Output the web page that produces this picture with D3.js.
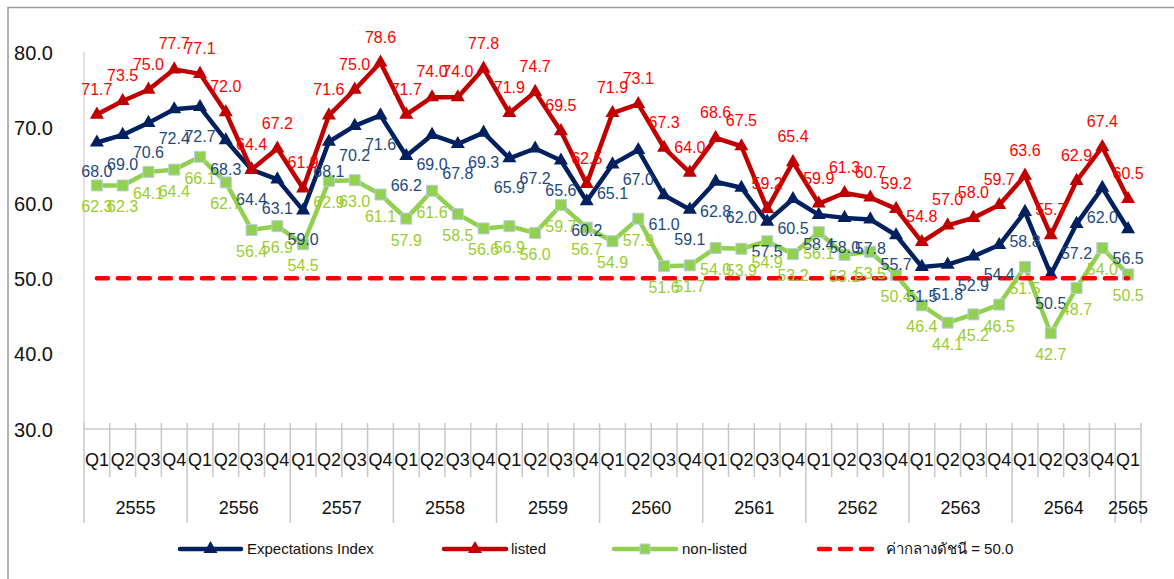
<!DOCTYPE html>
<html><head><meta charset="utf-8">
<script src="https://cdn.jsdelivr.net/npm/d3@7"></script>
<style>
body{margin:0;background:#fff}
svg{display:block}
text{font-family:"Liberation Sans",Arial,"Noto Sans","DejaVu Sans",sans-serif}
</style>
</head><body>
<svg id="c" width="1174" height="579"></svg>
<script>
// ---------- DATA ----------
const yearLabels = ["2555","2556","2557","2558","2559","2560","2561","2562","2563","2564","2565"];
const quartersPerYear = [4,4,4,4,4,4,4,4,4,4,1];
const quarterLabels = [
 "Q1","Q2","Q3","Q4","Q1","Q2","Q3","Q4","Q1","Q2","Q3","Q4",
 "Q1","Q2","Q3","Q4","Q1","Q2","Q3","Q4","Q1","Q2","Q3","Q4",
 "Q1","Q2","Q3","Q4","Q1","Q2","Q3","Q4","Q1","Q2","Q3","Q4",
 "Q1","Q2","Q3","Q4","Q1"];
const expectations = [68.0,69.0,70.6,72.4, 72.7,68.3,64.4,63.1, 59.0,68.1,70.2,71.6,
 66.2,69.0,67.8,69.3, 65.9,67.2,65.6,60.2, 65.1,67.0,61.0,59.1, 62.8,62.0,57.5,60.5,
 58.4,58.0,57.8,55.7, 51.5,51.8,52.9,54.4, 58.8,50.5,57.2,62.0, 56.5];
const listed = [71.7,73.5,75.0,77.7, 77.1,72.0,64.4,67.2, 61.9,71.6,75.0,78.6,
 71.7,74.0,74.0,77.8, 71.9,74.7,69.5,62.5, 71.9,73.1,67.3,64.0, 68.6,67.5,59.2,65.4,
 59.9,61.3,60.7,59.2, 54.8,57.0,58.0,59.7, 63.6,55.7,62.9,67.4, 60.5];
const nonListed = [62.3,62.3,64.1,64.4, 66.1,62.7,56.4,56.9, 54.5,62.9,63.0,61.1,
 57.9,61.6,58.5,56.6, 56.9,56.0,59.7,56.7, 54.9,57.9,51.6,51.7, 54.0,53.9,54.9,53.2,
 56.1,53.1,53.5,50.4, 46.4,44.1,45.2,46.5, 51.5,42.7,48.7,54.0, 50.5];
const midValue = 50.0;
const yTicks = [30,40,50,60,70,80];
const seriesNames = ["Expectations Index","listed","non-listed","ค่ากลางดัชนี = 50.0"];

// ---------- SCALES ----------
const svg = d3.select("#c");
const L = 84, R = 1141, T = 52, B = 429;
const idx = d3.range(quarterLabels.length);
const x = d3.scaleBand().domain(idx).range([L, R]).padding(0);
const cx = i => x(i) + x.bandwidth()/2;
const y = d3.scaleLinear().domain([30, 80]).range([B, T]);

// frame
svg.append("path").attr("d", `M8,579 V7.5 H1174`).attr("fill","none")
  .attr("stroke","#9a9a9a").attr("stroke-width",1.5);

// y axis line
svg.append("line").attr("x1",L).attr("x2",L).attr("y1",T).attr("y2",B)
  .attr("stroke","#d9d9d9").attr("stroke-width",1.5);

// y tick labels
const yAxis = d3.axisLeft(y).tickValues(yTicks).tickFormat(d3.format(".1f")).tickSize(0).tickPadding(0);
const yg = svg.append("g").attr("transform","translate(53,0)").call(yAxis);
yg.select(".domain").remove();
yg.selectAll("text").attr("font-size",20).attr("fill","#111")
  .style("font-family",'"Liberation Sans",Arial,sans-serif').attr("dy","0.36em");

// x axis: horizontal line + ticks
svg.append("line").attr("x1",L).attr("x2",R).attr("y1",B).attr("y2",B)
  .attr("stroke","#c8c8c8").attr("stroke-width",1.5);
const boundaries = d3.range(quarterLabels.length + 1);
let yearStarts = [0]; quartersPerYear.forEach((q,k)=>yearStarts.push(yearStarts[k]+q));
const bx = b => b < quarterLabels.length ? x(b) : R;
svg.append("g").selectAll("line").data(boundaries).join("line")
  .attr("x1", b=>bx(b)).attr("x2", b=>bx(b))
  .attr("y1", B-6)
  .attr("y2", b => yearStarts.includes(b) ? 523 : 477)
  .attr("stroke","#c8c8c8").attr("stroke-width",1.5);

// quarter labels
svg.append("g").selectAll("text").data(quarterLabels).join("text")
  .attr("x",(d,i)=>cx(i)).attr("y",466).attr("text-anchor","middle")
  .attr("font-size",18).attr("fill","#111").text(d=>d);
// year labels
svg.append("g").selectAll("text").data(yearLabels).join("text")
  .attr("x",(d,k)=>(bx(yearStarts[k]) + bx(yearStarts[k+1]))/2).attr("y",514)
  .attr("text-anchor","middle").attr("font-size",18).attr("fill","#111").text(d=>d);

// ---------- SERIES ----------
const line = d3.line().x((d,i)=>cx(i)).y(d=>y(d));
const series = [
  {name:seriesNames[0], data:expectations, color:"#002060", label:"#1F497D", sym:d3.symbolTriangle, size:85, dy:35},
  {name:seriesNames[1], data:listed, color:"#C00000", label:"#FF0000", sym:d3.symbolTriangle, size:85, dy:-20},
  {name:seriesNames[2], data:nonListed, color:"#92D050", label:"#9ACD32", sym:d3.symbolSquare, size:121, dy:27}
];
series.forEach(s=>{
  svg.append("path").datum(s.data).attr("d",line).attr("fill","none")
    .attr("stroke",s.color).attr("stroke-width",4.5).attr("stroke-linejoin","round");
  svg.append("g").selectAll("path").data(s.data).join("path")
    .attr("d", d3.symbol().type(s.sym).size(s.size))
    .attr("transform",(d,i)=>`translate(${cx(i)},${y(d)})`)
    .attr("fill",s.color)
    .attr("stroke", s.sym===d3.symbolSquare ? "#B9CDE5" : "none")
    .attr("stroke-width",1);
});
// midline
svg.append("line").attr("x1",cx(0)).attr("x2",cx(quarterLabels.length-1))
  .attr("y1",y(midValue)).attr("y2",y(midValue))
  .attr("stroke","#FF0000").attr("stroke-width",4.5).attr("stroke-dasharray","11,10")
  .attr("stroke-linecap","round");

// data labels
series.forEach(s=>{
  svg.append("g").selectAll("text").data(s.data).join("text")
    .attr("x",(d,i)=>cx(i)).attr("y",d=>y(d)+s.dy).attr("text-anchor","middle")
    .attr("font-size",16).attr("fill",s.label).text(d=>d3.format(".1f")(d));
});

// ---------- LEGEND ----------
const ly = 549;
const leg = [
  {x0:180,x1:241,tx:247,color:"#002060",sym:d3.symbolTriangle,size:85,dash:null},
  {x0:444,x1:506,tx:511,color:"#C00000",sym:d3.symbolTriangle,size:85,dash:null},
  {x0:614,x1:676,tx:682,color:"#92D050",sym:d3.symbolSquare,size:100,dash:null},
  {x0:819,x1:873,tx:886,color:"#FF0000",sym:null,size:0,dash:"11,10"}
];
leg.forEach((g,k)=>{
  svg.append("line").attr("x1",g.x0).attr("x2",g.x1).attr("y1",ly).attr("y2",ly)
    .attr("stroke",g.color).attr("stroke-width",4.5).attr("stroke-linecap","round")
    .attr("stroke-dasharray",g.dash);
  if(g.sym){
    svg.append("path").attr("d",d3.symbol().type(g.sym).size(g.size))
      .attr("transform",`translate(${(g.x0+g.x1)/2},${ly})`).attr("fill",g.color)
      .attr("stroke", g.sym===d3.symbolSquare ? "#B9CDE5":"none");
  }
  svg.append("text").attr("x",g.tx).attr("y",ly).attr("dy","0.35em")
    .attr("font-size",15).attr("fill","#111").text(seriesNames[k]);
});
</script>
</body></html>
